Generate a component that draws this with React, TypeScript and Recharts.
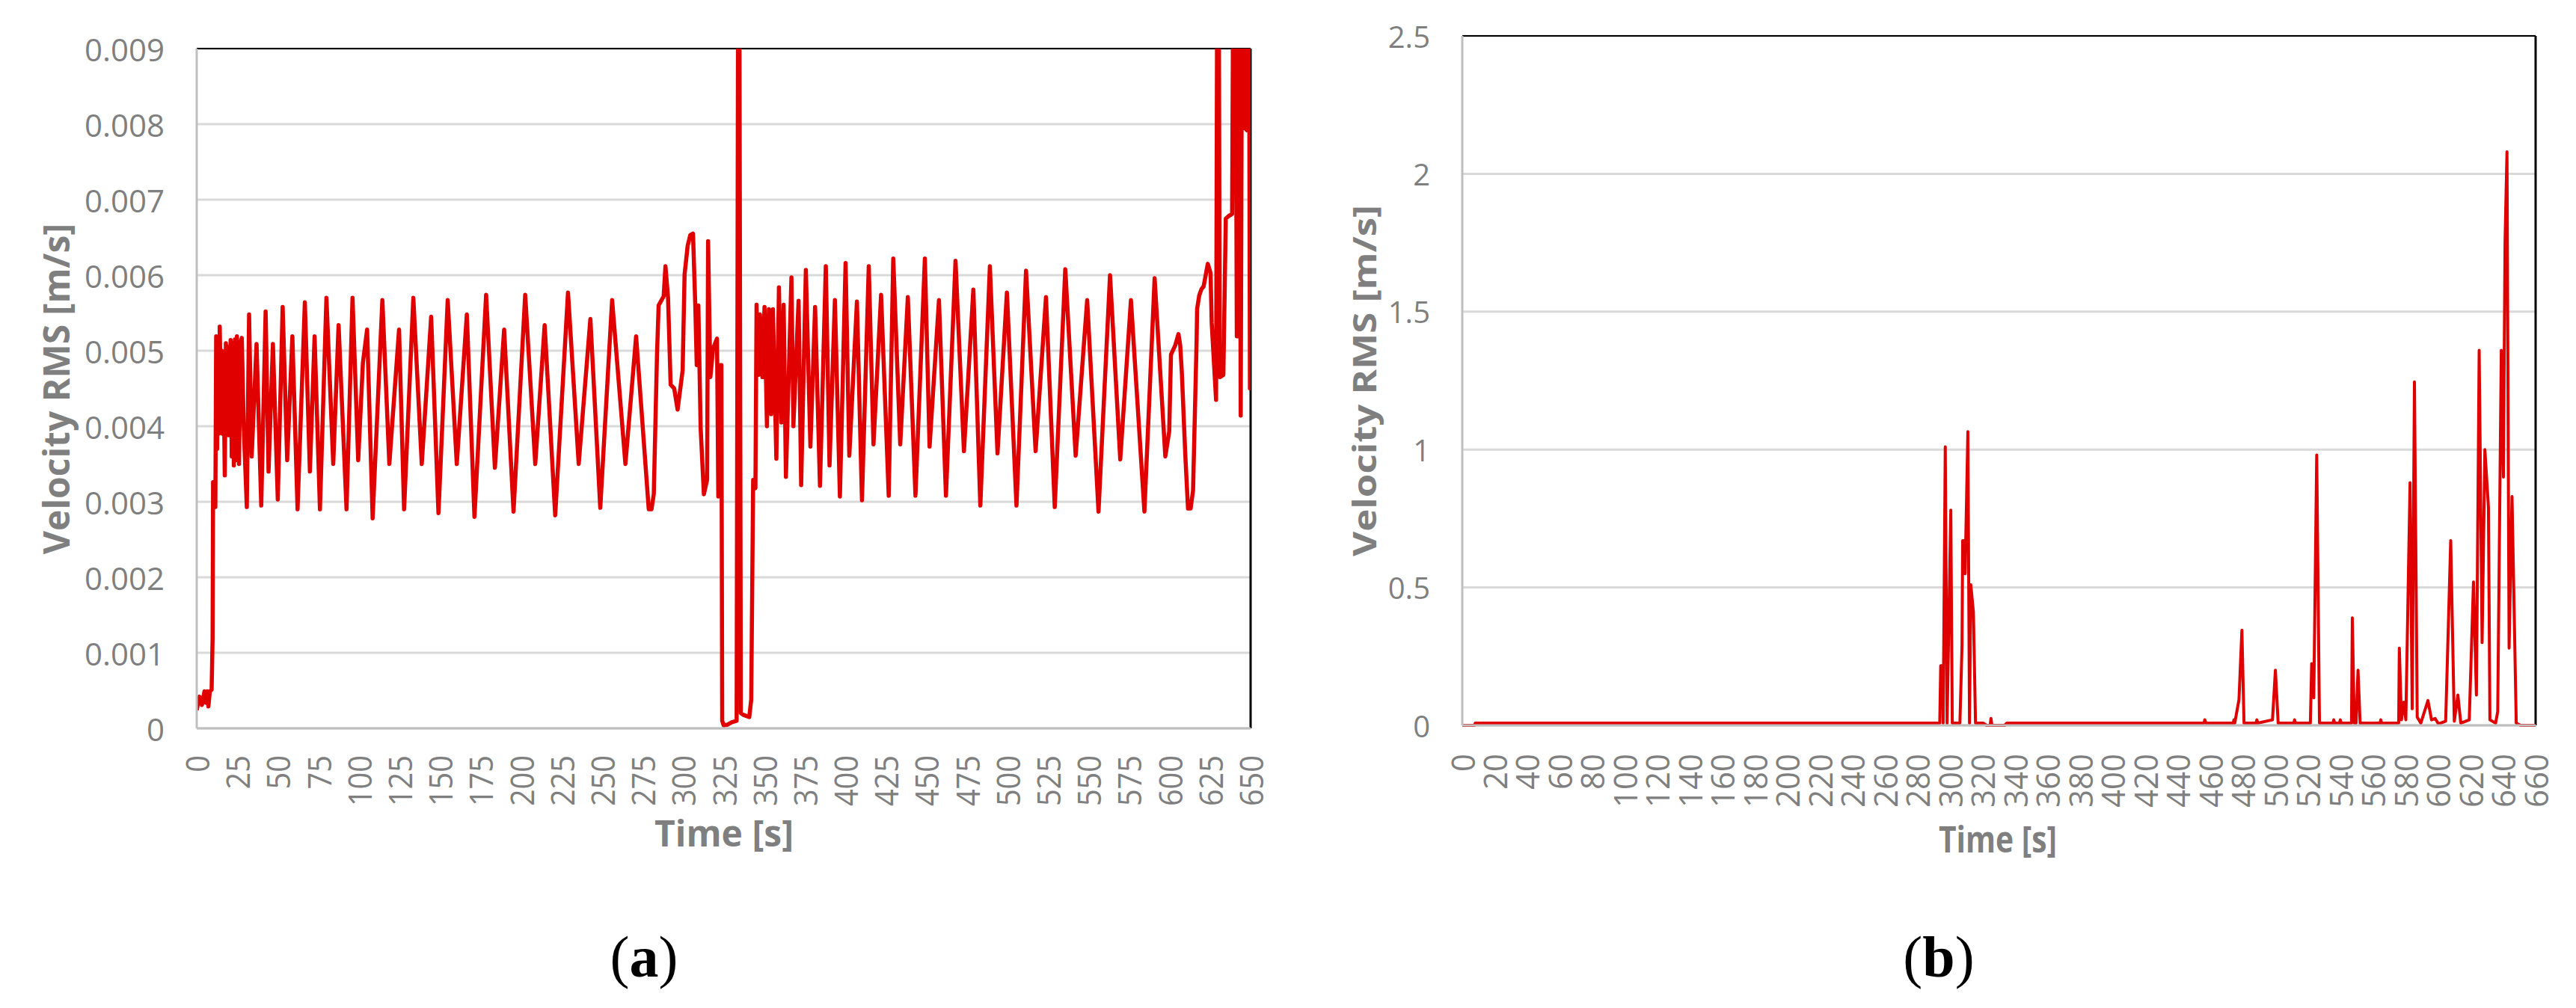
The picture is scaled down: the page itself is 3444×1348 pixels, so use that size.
import React from 'react'
import { LineChart, Line, XAxis, YAxis, CartesianGrid, ReferenceLine } from 'recharts'

// (a) velocity RMS, [time s, velocity m/s]
const startA: [number, number][] = [
  [0, 0.00024], [1.7, 0.00042], [3.2, 0.00031], [4.8, 0.00049], [5.6, 0.00034], [6.6, 0.00049],
  [7.2, 0.00029], [8.1, 0.00049], [9.2, 0.00051], [9.8, 0.0012], [10.1, 0.00326], [11.0, 0.00326],
  [11.5, 0.00293], [12.0, 0.00519], [12.6, 0.0037], [13.1, 0.0049], [13.6, 0.0039], [14.2, 0.00532],
  [15.0, 0.0042], [15.4, 0.005], [16.0, 0.0039], [16.4, 0.00499], [17.3, 0.00335], [18.0, 0.0051],
  [18.8, 0.0039], [19.3, 0.00505], [19.8, 0.00388], [20.9, 0.00514], [21.6, 0.0036], [22.3, 0.0051],
  [22.9, 0.00348], [23.6, 0.00515], [24.1, 0.00355], [24.8, 0.00519], [26.1, 0.0035], [27.0, 0.0051],
  [27.8, 0.00517], [29.0, 0.004], [30.9, 0.00293],
]

const steadyA: [number, number][] = [
  [32.3, 0.00548], [33.9, 0.0036], [36.9, 0.00509], [39.8, 0.00295], [42.5, 0.00552], [44.3, 0.0034],
  [47.0, 0.00509], [50.0, 0.00303], [53.0, 0.00558], [55.8, 0.00355], [59.0, 0.00519], [62.2, 0.0029],
  [66.7, 0.00564], [69.8, 0.0034], [72.7, 0.00519], [76.0, 0.0029], [80.0, 0.0057], [84.2, 0.0035],
  [87.5, 0.00534], [92.4, 0.0029], [96.1, 0.0057], [99.6, 0.00355], [102.5, 0.00484], [105.1, 0.00528],
  [108.5, 0.00278], [114.5, 0.00567], [118.8, 0.0035], [124.8, 0.00528], [127.9, 0.0029], [133.6, 0.0057],
  [138.8, 0.0035], [144.6, 0.00545], [149.1, 0.00285], [154.8, 0.00567], [160.4, 0.0035], [166.6, 0.00548],
  [171.3, 0.0028], [178.5, 0.00574], [183.9, 0.00345], [189.6, 0.00528], [195.4, 0.00287], [202.6, 0.00574],
  [208.8, 0.0035], [214.6, 0.00534], [221.1, 0.00282], [229.0, 0.00577], [235.6, 0.0035], [242.8, 0.00542],
  [248.9, 0.00292], [256.2, 0.00567], [264.4, 0.0035], [271.0, 0.00519], [278.8, 0.0029], [280.5, 0.0029],
  [281.9, 0.0031], [283.9, 0.00496], [284.9, 0.0056], [288.0, 0.00572], [289.1, 0.00612],
]

const dropA: [number, number][] = [
  [290.7, 0.0057], [292.3, 0.00455], [294.5, 0.0045], [296.6, 0.00422], [299.7, 0.00474], [300.9, 0.00601],
  [302.8, 0.00639], [304.4, 0.00653], [306.1, 0.00655], [307.5, 0.0056], [308.4, 0.00481], [309.4, 0.0056],
  [310.8, 0.00398], [312.8, 0.0031], [314.8, 0.00329], [315.4, 0.00645], [316.8, 0.00465], [318.5, 0.00503],
  [320.9, 0.00516], [321.7, 0.00307], [322.9, 0.00481], [323.6, 0.00481], [324.1, 0.0001], [325.0, 0.00004],
  [327.5, 0.00005], [330.0, 0.00008], [333.0, 0.0001], [334.3, 0.014], [335.6, 0.0002], [337.0, 0.00018],
  [340.8, 0.00015], [342.0, 0.00038], [343.2, 0.00329], [344.6, 0.00318], [345.3, 0.00561],
]

const lateA: [number, number][] = [
  [346.4, 0.00468], [347.4, 0.00548], [348.9, 0.00465], [350.2, 0.00558], [351.7, 0.004], [352.9, 0.00555],
  [354.3, 0.00416], [355.4, 0.00555], [357.5, 0.00357], [359.1, 0.00584], [360.6, 0.00405], [362.0, 0.00561],
  [363.4, 0.00333], [366.8, 0.00597], [368.0, 0.004], [371.2, 0.00566], [372.8, 0.00322], [375.7, 0.00607],
  [378.5, 0.00373], [381.4, 0.00558], [384.4, 0.00321], [388.0, 0.00612], [390.3, 0.00348], [393.6, 0.00567],
  [396.7, 0.00307], [400.2, 0.00616], [402.5, 0.00361], [407.2, 0.00565], [410.3, 0.00302], [414.5, 0.00612],
  [417.4, 0.00376], [422.1, 0.00574], [426.8, 0.00308], [429.6, 0.00622], [433.9, 0.00376], [438.6, 0.00571],
  [443.3, 0.00308], [449.1, 0.00622], [452.0, 0.00373], [457.8, 0.00567], [462.1, 0.00308], [468.0, 0.00619],
  [473.2, 0.00367], [479.0, 0.00581], [483.3, 0.00295], [489.2, 0.00612], [493.9, 0.00364], [499.7, 0.00577],
  [505.6, 0.00295], [511.5, 0.00606], [517.4, 0.00367], [523.8, 0.00571], [529.2, 0.00293], [535.7, 0.00608],
  [542.1, 0.00361], [549.2, 0.00567], [556.2, 0.00287], [563.3, 0.006], [569.6, 0.00356], [576.2, 0.00567],
  [584.5, 0.00287], [590.8, 0.00596], [597.4, 0.0036], [599.8, 0.00393], [600.9, 0.00495], [603.5, 0.00507],
  [605.5, 0.00522], [606.6, 0.00507], [607.6, 0.00471], [609.7, 0.00363], [611.4, 0.00291], [613.0, 0.00291],
  [614.5, 0.00315], [616.7, 0.00513], [617.0, 0.00555], [618.3, 0.00573], [619.8, 0.00582], [621.0, 0.00585],
  [623.6, 0.00615], [625.3, 0.00603], [626.0, 0.00537], [628.7, 0.00435], [629.9, 0.014], [631.0, 0.00465],
  [633.2, 0.00468], [634.7, 0.00675], [636.3, 0.00678], [638.6, 0.00681], [640.1, 0.014], [641.5, 0.00519],
  [642.1, 0.00519], [642.7, 0.014], [643.9, 0.00414], [645.3, 0.014], [646.6, 0.00795], [647.7, 0.00792],
  [648.6, 0.014], [649.6, 0.0045], [650.0, 0.0053],
]

// (b) velocity RMS, [time s, velocity m/s]
const quietB: [number, number][] = [[0, 0], [7.5, 0], [8.0, 0.008], [293.6, 0.008]]

const burstB: [number, number][] = [
  [294.2, 0.216], [295.3, 0.216], [295.7, 0.008], [297.0, 1.01], [298.1, 0.008], [300.4, 0.78],
  [301.3, 0.008], [306.0, 0.008], [307.3, 0.29], [307.7, 0.67], [308.6, 0.67], [309.2, 0.55],
  [310.9, 1.065], [311.9, 0.008], [312.7, 0.51], [314.3, 0.41], [315.6, 0.008], [320.4, 0.008],
  [322.4, 0], [324.6, 0], [325.1, 0.025], [325.7, 0], [333.5, 0], [334.8, 0.008],
]

const lateB: [number, number][] = [
  [456.0, 0.008], [456.6, 0.02], [457.3, 0.008], [474.0, 0.008], [474.5, 0.02], [475.0, 0.008],
  [477.6, 0.093], [479.4, 0.345], [480.7, 0.008], [488.1, 0.008], [488.6, 0.02], [489.1, 0.008],
  [498.2, 0.02], [500.0, 0.2], [501.7, 0.008], [511.3, 0.008], [511.8, 0.02], [512.3, 0.008],
  [521.5, 0.008], [522.3, 0.224], [523.6, 0.1], [525.4, 0.98], [527.1, 0.008], [535.4, 0.008],
  [535.9, 0.02], [536.4, 0.008], [539.4, 0.008], [539.9, 0.02], [540.4, 0.008], [546.8, 0.008],
  [547.3, 0.39], [548.5, 0.008], [549.6, 0.008], [550.8, 0.2], [552.1, 0.008], [564.3, 0.008],
  [564.8, 0.02], [565.3, 0.008], [575.8, 0.008], [576.2, 0.28], [577.5, 0.02], [578.9, 0.084],
  [580.2, 0.02], [582.8, 0.88], [584.1, 0.06], [585.5, 1.245], [587.2, 0.03], [589.4, 0.008],
  [593.8, 0.09], [596.0, 0.02], [598.2, 0.025], [600.3, 0.005], [604.7, 0.015], [607.8, 0.67],
  [610.0, 0.015], [612.2, 0.11], [614.0, 0.008], [619.2, 0.02], [621.8, 0.52], [623.6, 0.11],
  [625.3, 1.36], [627.1, 0.3], [628.8, 1.0], [631.0, 0.79], [631.9, 0.02], [635.4, 0.008],
  [636.7, 0.05], [638.9, 1.36], [640.2, 0.9], [641.2, 1.75], [642.4, 2.08], [643.7, 0.28],
  [645.5, 0.83], [648.1, 0.008], [650.7, 0], [660, 0],
]

const ticksA = [0, 25, 50, 75, 100, 125, 150, 175, 200, 225, 250, 275, 300, 325, 350, 375, 400, 425, 450, 475, 500, 525, 550, 575, 600, 625, 650]
const ticksB = [0, 20, 40, 60, 80, 100, 120, 140, 160, 180, 200, 220, 240, 260, 280, 300, 320, 340, 360, 380, 400, 420, 440, 460, 480, 500, 520, 540, 560, 580, 600, 620, 640, 660]
const yTicksA = [0, 0.001, 0.002, 0.003, 0.004, 0.005, 0.006, 0.007, 0.008, 0.009]
const yTicksB = [0, 0.5, 1, 1.5, 2, 2.5]

const toRows = (pts: [number, number][]) => pts.map(([t, v]) => ({ t, v }))
const dataA = toRows([...startA, ...steadyA, ...dropA, ...lateA])
const dataB = toRows([...quietB, ...burstB, ...lateB])

const GREY = '#7f7f7f'
const RED = '#e00000'
const FONT = "'Open Sans', sans-serif"
const SERIF = "'Liberation Serif', 'Times New Roman', serif"

// rotated time labels, end of text pinned just under the axis
const makeXTick = (top: number, size: number, perChar: number) => (props: any) => {
  const { x, payload } = props
  const label = String(payload.value)
  return (
    <text
      x={x}
      y={top}
      transform={`rotate(-90 ${x} ${top})`}
      textAnchor="end"
      dominantBaseline="central"
      fontFamily={FONT}
      fontSize={size}
      fill={GREY}
      textLength={label.length * perChar}
      lengthAdjust="spacingAndGlyphs"
    >
      {label}
    </text>
  )
}

const makeYTick = (right: number, size: number) => (props: any) => {
  const { y, payload } = props
  return (
    <text x={right} y={y} textAnchor="end" dominantBaseline="central" fontFamily={FONT} fontSize={size} fill={GREY}>
      {String(payload.value)}
    </text>
  )
}

const yTitle = (cx: number, cy: number, size: number, len?: number) => () => (
  <text
    x={cx}
    y={cy}
    transform={`rotate(-90 ${cx} ${cy})`}
    textAnchor="middle"
    dominantBaseline="central"
    fontFamily={FONT}
    fontWeight={700}
    fontSize={size}
    fill={GREY}
    textLength={len}
    lengthAdjust="spacingAndGlyphs"
  >
    Velocity RMS [m/s]
  </text>
)

const xTitle = (cx: number, base: number, len: number | undefined, capX: number, letter: string) => () => (
  <g>
    <text
      x={cx}
      y={base}
      textAnchor="middle"
      fontFamily={FONT}
      fontWeight={700}
      fontSize={48}
      fill={GREY}
      textLength={len}
      lengthAdjust="spacingAndGlyphs"
    >
      Time [s]
    </text>
    <text x={capX} y={1306} textAnchor="middle" fontFamily={SERIF} fontSize={78} fill="#000">
      (<tspan fontWeight={700}>{letter}</tspan>)
    </text>
  </g>
)

export default function App() {
  return (
    <div style={{ position: 'relative', width: 3444, height: 1348, background: '#fff' }}>
      <style>{'body{margin:0}'}</style>
      <div style={{ position: 'absolute', left: 0, top: 0 }}>
        <LineChart width={1722} height={1348} data={dataA} margin={{ top: 65, right: 50, left: 0, bottom: 0 }}>
          <CartesianGrid vertical={false} stroke="#d9d9d9" strokeWidth={3} />
          <XAxis
            dataKey="t"
            type="number"
            domain={[0, 650]}
            ticks={ticksA}
            interval={0}
            allowDataOverflow
            height={374}
            axisLine={{ stroke: '#bfbfbf', strokeWidth: 3 }}
            tickLine={false}
            tick={makeXTick(1010, 44, 22.7)}
            label={xTitle(968, 1132, undefined, 861, 'a')}
          />
          <YAxis
            type="number"
            domain={[0, 0.009]}
            ticks={yTicksA}
            interval={0}
            allowDataOverflow
            width={263}
            axisLine={{ stroke: '#bfbfbf', strokeWidth: 3 }}
            tickLine={false}
            tick={makeYTick(220, 42)}
            label={yTitle(74, 520, 48)}
          />
          <ReferenceLine y={0.009} stroke="#000" strokeWidth={2} />
          <ReferenceLine x={650} stroke="#000" strokeWidth={3} />
          <Line type="linear" dataKey="v" stroke={RED} strokeWidth={5.5} strokeLinejoin="round" dot={false} isAnimationActive={false} />
        </LineChart>
      </div>
      <div style={{ position: 'absolute', left: 1722, top: 0 }}>
        <LineChart width={1722} height={1348} data={dataB} margin={{ top: 48, right: 54, left: 0, bottom: 0 }}>
          <CartesianGrid vertical={false} stroke="#d9d9d9" strokeWidth={3} />
          <XAxis
            dataKey="t"
            type="number"
            domain={[0, 660]}
            ticks={ticksB}
            interval={0}
            height={378}
            axisLine={{ stroke: '#bfbfbf', strokeWidth: 3 }}
            tickLine={false}
            tick={makeXTick(1008, 43, 24)}
            label={xTitle(949, 1140, 158, 870, 'b')}
          />
          <YAxis
            type="number"
            domain={[0, 2.5]}
            ticks={yTicksB}
            interval={0}
            width={233}
            axisLine={{ stroke: '#bfbfbf', strokeWidth: 3 }}
            tickLine={false}
            tick={makeYTick(190, 40)}
            label={yTitle(101, 509, 43, 470)}
          />
          <ReferenceLine y={2.5} stroke="#000" strokeWidth={2} />
          <ReferenceLine x={660} stroke="#000" strokeWidth={3} />
          <Line type="linear" dataKey="v" stroke={RED} strokeWidth={4} strokeLinejoin="round" dot={false} isAnimationActive={false} />
        </LineChart>
      </div>
    </div>
  )
}
